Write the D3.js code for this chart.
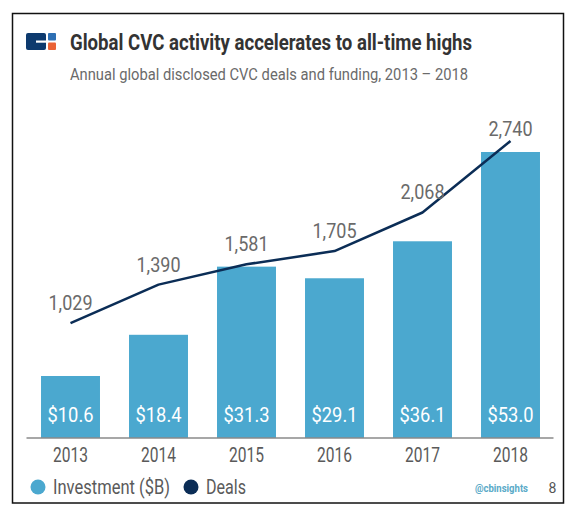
<!DOCTYPE html>
<html><head><meta charset="utf-8">
<script src="https://cdn.jsdelivr.net/npm/d3@7"></script>
<style>body{margin:0;background:#fff;} svg{display:block;}</style>
</head><body>
<svg id="c" width="579" height="514"></svg>
<script>
const years = ["2013","2014","2015","2016","2017","2018"];
const investment = [10.6, 18.4, 31.3, 29.1, 36.1, 53.0];
const deals = [1029, 1390, 1581, 1705, 2068, 2740];
const investmentLabels = ["$10.6","$18.4","$31.3","$29.1","$36.1","$53.0"];
const dealLabels = ["1,029","1,390","1,581","1,705","2,068","2,740"];

const svg = d3.select("#c");
const barColor = "#4ba8cf", navy = "#0b2d56", gray = "#6a6a6a";
const font = "Roboto, 'Noto Sans', sans-serif";

// frame
svg.append("rect").attr("x",12.5).attr("y",13.5).attr("width",551).attr("height",489.5)
  .attr("fill","#fff").attr("stroke","#111").attr("stroke-width",1.5);

// logo
const lg = svg.append("g");
lg.append("rect").attr("x",26).attr("y",33).attr("width",20).attr("height",17).attr("rx",2).attr("fill","#0d3a6e");
lg.append("rect").attr("x",36).attr("y",40.5).attr("width",11).attr("height",2.2).attr("fill","#fff");
lg.append("rect").attr("x",48).attr("y",33).attr("width",8).attr("height",7.5).attr("rx",1).attr("fill","#2e6fb3");
lg.append("rect").attr("x",48).attr("y",42.5).attr("width",8).attr("height",7.5).attr("rx",1).attr("fill","#ea6236");

svg.append("text").attr("x",70).attr("y",50).attr("font-family",font).attr("font-weight",700)
  .attr("font-size",21.5).attr("fill","#333").attr("textLength",402).attr("lengthAdjust","spacingAndGlyphs")
  .text("Global CVC activity accelerates to all-time highs");
svg.append("text").attr("x",70).attr("y",80).attr("font-family",font)
  .attr("font-size",16).attr("fill",gray).attr("textLength",398).attr("lengthAdjust","spacingAndGlyphs")
  .text("Annual global disclosed CVC deals and funding, 2013 – 2018");

// scales
const x = d3.scaleBand().domain(years).range([26.5, 554.5]).paddingInner(0.33).paddingOuter(0.165);
const yBar = d3.scaleLinear().domain([0, 53]).range([432, 152]);
const yLine = d3.scaleLinear().domain([0, 2740]).range([432.5, 141]);
const axisY = 438;

// bars
svg.append("g").selectAll("rect").data(investment).join("rect")
  .attr("x",(d,i)=>x(years[i])).attr("width",x.bandwidth())
  .attr("y",d=>yBar(d)).attr("height",d=>axisY-yBar(d)).attr("fill",barColor);

// bar labels
svg.append("g").selectAll("text").data(investmentLabels).join("text")
  .attr("x",(d,i)=>x(years[i])+x.bandwidth()/2).attr("y",422)
  .attr("text-anchor","middle").attr("font-family",font).attr("font-size",21)
  .attr("fill","#fff").attr("textLength",46).attr("lengthAdjust","spacingAndGlyphs").text(d=>d);

// axis
const axis = d3.axisBottom(x).tickSize(0).tickPadding(0);
const ag = svg.append("g").attr("transform",`translate(0,${axisY})`).call(axis);
ag.select(".domain").attr("stroke","#8a8a8a").attr("stroke-width",1.5).attr("d","M26.5,0H553.5");
ag.selectAll("text").attr("font-family",font).attr("font-size",21).attr("fill","#5a5a5a")
  .attr("dy",null).attr("y",24).attr("textLength",35).attr("lengthAdjust","spacingAndGlyphs");

// line
const line = d3.line().x((d,i)=>x(years[i])+x.bandwidth()/2).y(d=>yLine(d));
svg.append("path").datum(deals).attr("d",line).attr("fill","none")
  .attr("stroke",navy).attr("stroke-width",2.5).attr("stroke-linejoin","round");

svg.append("g").selectAll("text").data(deals).join("text")
  .attr("x",(d,i)=>x(years[i])+x.bandwidth()/2)
  .attr("y",(d,i)=>yLine(d)-(i===deals.length-1 ? 5 : 13))
  .attr("text-anchor","middle").attr("font-family",font).attr("font-size",21)
  .attr("fill",gray).attr("textLength",44).attr("lengthAdjust","spacingAndGlyphs")
  .text((d,i)=>dealLabels[i]);

// legend
const legend = [["Investment ($B)", barColor, 38, 117], ["Deals", navy, 191, 40]];
legend.forEach(([t,c,lx,w])=>{
  svg.append("circle").attr("cx",lx).attr("cy",487).attr("r",7.5).attr("fill",c);
  svg.append("text").attr("x",lx+15).attr("y",494).attr("font-family",font).attr("font-size",20)
    .attr("fill","#5a5a5a").attr("textLength",w).attr("lengthAdjust","spacingAndGlyphs").text(t);
});
svg.append("text").attr("x",475).attr("y",492).attr("font-family",font).attr("font-weight",700)
  .attr("font-size",11.5).attr("fill","#5aaac8").attr("textLength",53).attr("lengthAdjust","spacingAndGlyphs").text("@cbinsights");
svg.append("text").attr("x",552.5).attr("y",493).attr("text-anchor","middle").attr("font-family",font)
  .attr("font-size",14).attr("fill","#555").text("8");
</script>
</body></html>
